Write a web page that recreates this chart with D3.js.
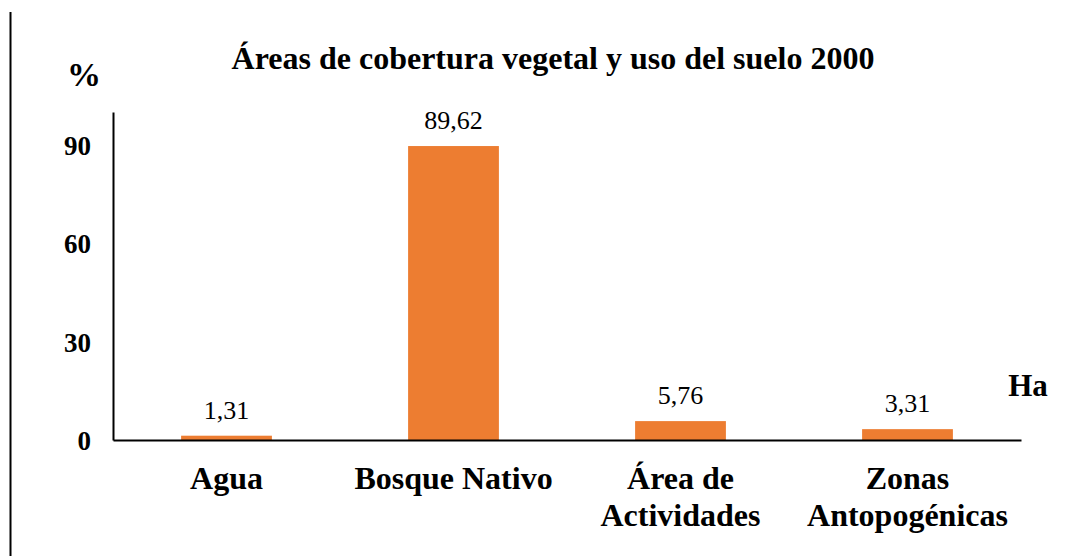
<!DOCTYPE html>
<html>
<head>
<meta charset="utf-8">
<script src="https://cdn.jsdelivr.net/npm/d3@7"></script>
<style>
  body { margin: 0; background: #fff; }
  svg { display: block; }
  svg text { font-family: "Liberation Serif", "Times New Roman", Times, "DejaVu Serif", serif; fill: #000; }
</style>
</head>
<body>
<div id="chart"></div>
<script>
const categories = [["Agua"], ["Bosque Nativo"], ["Área de", "Actividades"], ["Zonas", "Antopogénicas"]];
const values = [1.31, 89.62, 5.76, 3.31];
const valueLabels = ["1,31", "89,62", "5,76", "3,31"];
const yTicks = [0, 30, 60, 90];

const W = 1068, H = 556;

const svg = d3.select('#chart').append('svg')
  .attr('width', W)
  .attr('height', H);

// left border line
svg.append('line')
  .attr('x1', 10.5).attr('x2', 10.5)
  .attr('y1', 12).attr('y2', H)
  .attr('stroke', '#000').attr('stroke-width', 2);

const x = d3.scaleBand()
  .domain(categories.map((d, i) => i))
  .range([113, 1021])
  .paddingInner(0.6)
  .paddingOuter(0.3);

const y = d3.scaleLinear()
  .domain([0, 100])
  .range([440, 112]);

// bars
svg.append('g')
  .selectAll('rect').data(values)
  .enter()
  .append('rect')
    .attr('fill', '#ED7D31')
    .attr('x', (d, i) => x(i))
    .attr('y', d => y(d))
    .attr('width', x.bandwidth())
    .attr('height', d => y(0) - y(d));

// value labels
svg.append('g')
  .selectAll('text').data(values)
  .enter()
  .append('text')
    .attr('x', (d, i) => x(i) + x.bandwidth() / 2)
    .attr('y', d => y(d) - 17)
    .attr('text-anchor', 'middle')
    .style('font-size', '26px')
    .text((d, i) => valueLabels[i]);

// y axis
const yAxis = svg.append('g')
  .attr('transform', 'translate(113,0)')
  .call(d3.axisLeft(y).tickValues(yTicks).tickSize(0).tickPadding(22));
yAxis.attr('font-family', null).attr('font-size', null);
yAxis.select('.domain').attr('stroke', '#000').attr('stroke-width', 2);
yAxis.selectAll('text')
  .style('font-size', '27px')
  .style('font-weight', 'bold')
  .attr('dy', '0.35em');

// x axis
const xAxis = svg.append('g')
  .attr('transform', 'translate(0,440)')
  .call(d3.axisBottom(x).tickSize(0).tickFormat(''));
xAxis.select('.domain').attr('stroke', '#000').attr('stroke-width', 2);

// category labels
const cat = svg.append('g')
  .selectAll('text').data(categories)
  .enter()
  .append('text')
    .attr('x', (d, i) => x(i) + x.bandwidth() / 2)
    .attr('y', 489)
    .attr('text-anchor', 'middle')
    .style('font-size', '32px')
    .style('font-weight', 'bold');
cat.selectAll('tspan').data(d => d)
  .enter()
  .append('tspan')
    .attr('x', function () { return this.parentNode.getAttribute('x'); })
    .attr('dy', (d, i) => i === 0 ? 0 : 37)
    .text(d => d);

// title and unit labels
svg.append('text')
  .attr('x', 553).attr('y', 69)
  .attr('text-anchor', 'middle')
  .style('font-size', '32px')
  .style('font-weight', 'bold')
  .text('Áreas de cobertura vegetal y uso del suelo 2000');

svg.append('text')
  .attr('x', 84).attr('y', 86)
  .attr('text-anchor', 'middle')
  .style('font-size', '34px')
  .style('font-weight', 'bold')
  .text('%');

svg.append('text')
  .attr('x', 1028).attr('y', 396)
  .attr('text-anchor', 'middle')
  .style('font-size', '31px')
  .style('font-weight', 'bold')
  .text('Ha');
</script>
</body>
</html>
